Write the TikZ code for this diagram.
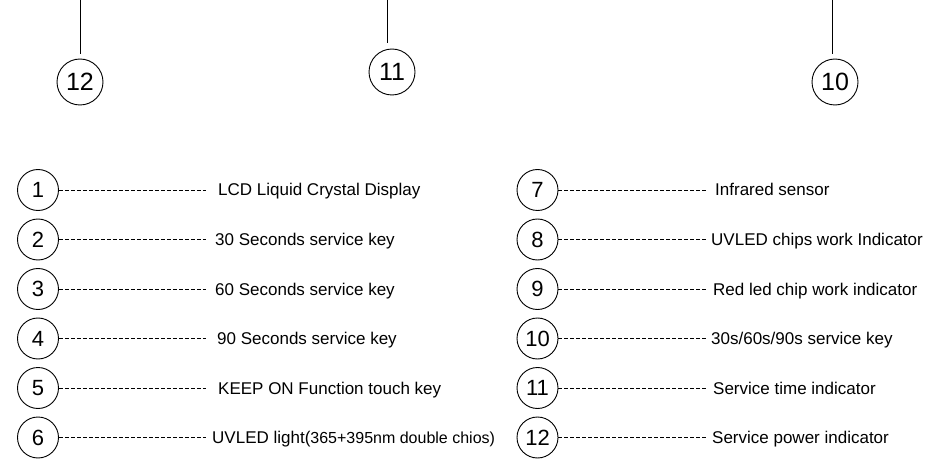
\documentclass[tikz,border=0pt]{standalone}
\usepackage{fontspec}
\setmainfont{Liberation Sans}
\begin{document}
\begin{tikzpicture}[x=1pt,y=-1pt,
  lw/.style={line width=0.9pt},
  bignum/.style={circle,draw,lw,minimum size=46pt,inner sep=0pt,font=\fontsize{25}{25}\selectfont},
  num/.style={circle,draw,lw,minimum size=41pt,inner sep=0pt,font=\fontsize{22}{22}\selectfont},
  lbl/.style={anchor=base west,inner sep=0pt,font=\fontsize{17}{20}\selectfont},
  lead/.style={lw,dash pattern=on 4pt off 2pt}]
\useasboundingbox (0,0) rectangle (930,476);
% top callouts
\node[bignum] (t12) at (80,82) {12};
\node[bignum] (t11) at (392,72) {11};
\node[bignum] (t10) at (835,82) {10};
\coordinate (v12a) at (80,0);  \coordinate (v12b) at (80,54);
\coordinate (v11a) at (387,0); \coordinate (v11b) at (387,43);
\coordinate (v10a) at (832,0); \coordinate (v10b) at (832,54);
\draw[lw] (v12a) -- (v12b);
\draw[lw] (v11a) -- (v11b);
\draw[lw] (v10a) -- (v10b);
% left column
\foreach \i/\y/\tx/\t in {1/190/218/{LCD Liquid Crystal Display},
                     2/239.5/215/{30 Seconds service key},
                     3/289/215/{60 Seconds service key},
                     4/338.5/217/{90 Seconds service key},
                     5/388/218/{KEEP ON Function touch key},
                     6/437.5/212/{UVLED light({\fontsize{16}{18}\selectfont 365+395nm double chios)}}}{
  \node[num] (c\i) at (38,\y) {\i};
  \coordinate (d\i) at (206,\y);
  \draw[lead] (c\i.east) -- (d\i);
  \node[lbl] (l\i) at (\tx,\y+6) {\t};
}
% right column
\foreach \i/\y/\tx/\t in {7/190/715/{Infrared sensor},
                     8/239.5/711/{UVLED chips work Indicator},
                     9/289/713/{Red led chip work indicator},
                     10/338.5/711/{30s/60s/90s service key},
                     11/388/713/{Service time indicator},
                     12/437.5/712/{Service power indicator}}{
  \node[num] (c\i) at (537.5,\y) {\i};
  \coordinate (d\i) at (707,\y);
  \draw[lead] (c\i.east) -- (d\i);
  \node[lbl] (l\i) at (\tx,\y+6) {\t};
}
\end{tikzpicture}
\end{document}
